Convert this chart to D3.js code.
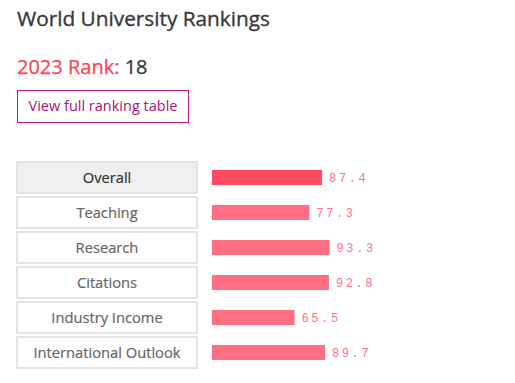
<!DOCTYPE html>
<html>
<head>
<meta charset="utf-8">
<script src="https://cdn.jsdelivr.net/npm/d3@7"></script>
<style>
  body { margin: 0; background: #fff; }
  svg { display: block; }
</style>
</head>
<body>
<div id="chart"></div>
<script>
// data
const categories = ["Overall", "Teaching", "Research", "Citations", "Industry Income", "International Outlook"];
const scores = [87.4, 77.3, 93.3, 92.8, 65.5, 89.7];
const rankYear = "2023";
const rank = 18;

const width = 515, height = 383;
const font = "'Open Sans', sans-serif";

const svg = d3.select("#chart").append("svg")
    .attr("width", width)
    .attr("height", height);

svg.append("text")
    .attr("x", 17)
    .attr("y", 26)
    .attr("font-family", font)
    .attr("font-size", 20.8)
    .attr("fill", "#383838")
    .attr("stroke", "#383838")
    .attr("stroke-width", 0.35)
    .text("World University Rankings");

const rankText = svg.append("text")
    .attr("x", 17)
    .attr("y", 74)
    .attr("font-family", font)
    .attr("font-size", 20)
    .attr("stroke-width", 0.25);
rankText.append("tspan").attr("fill", "#ff4058").attr("stroke", "#ff4058").text(rankYear + " Rank: ");
rankText.append("tspan").attr("fill", "#333").attr("stroke", "#333").text(rank);

// button
svg.append("rect")
    .attr("x", 17.5).attr("y", 90.5)
    .attr("width", 171).attr("height", 32)
    .attr("fill", "#fff")
    .attr("stroke", "#c0157c")
    .attr("stroke-width", 1);
svg.append("text")
    .attr("x", 103).attr("y", 111)
    .attr("text-anchor", "middle")
    .attr("font-family", font)
    .attr("font-size", 14.5)
    .attr("fill", "#a8146f")
    .text("View full ranking table");

// rows
const y = d3.scaleBand()
    .domain(categories)
    .range([162, 368])
    .paddingInner(4 / 35)
    .paddingOuter(0);

const x = d3.scaleLinear()
    .domain([0, 100])
    .range([212, 338]);

const rows = svg.append("g").selectAll("g")
    .data(categories)
    .join("g");

rows.append("rect")
    .attr("x", 17)
    .attr("y", d => y(d))
    .attr("width", 180)
    .attr("height", y.bandwidth())
    .attr("fill", (d, i) => i === 0 ? "#efefef" : "#fff")
    .attr("stroke", "#e3e3e3")
    .attr("stroke-width", 2);

rows.append("text")
    .attr("x", 107)
    .attr("y", d => y(d) + y.bandwidth() / 2 + 5)
    .attr("text-anchor", "middle")
    .attr("font-family", font)
    .attr("font-size", 14.7)
    .attr("fill", (d, i) => i === 0 ? "#333" : "#666")
    .attr("stroke", (d, i) => i === 0 ? "#333" : "#666")
    .attr("stroke-width", 0.2)
    .text(d => d);

const barH = 15;
rows.append("rect")
    .attr("x", x(0))
    .attr("y", d => y(d) + y.bandwidth() / 2 - barH / 2)
    .attr("width", (d, i) => x(scores[i]) - x(0))
    .attr("height", barH)
    .attr("fill", (d, i) => i === 0 ? "#ff4a64" : "#ff6e82");

rows.append("text")
    .attr("x", (d, i) => x(scores[i]) + 7)
    .attr("y", d => y(d) + y.bandwidth() / 2 + 4.5)
    .attr("font-family", "'Liberation Mono', monospace")
    .attr("font-size", 12)
    .attr("letter-spacing", 2.6)
    .attr("fill", "#ff7088")
    .text((d, i) => scores[i].toFixed(1));
</script>
</body>
</html>
